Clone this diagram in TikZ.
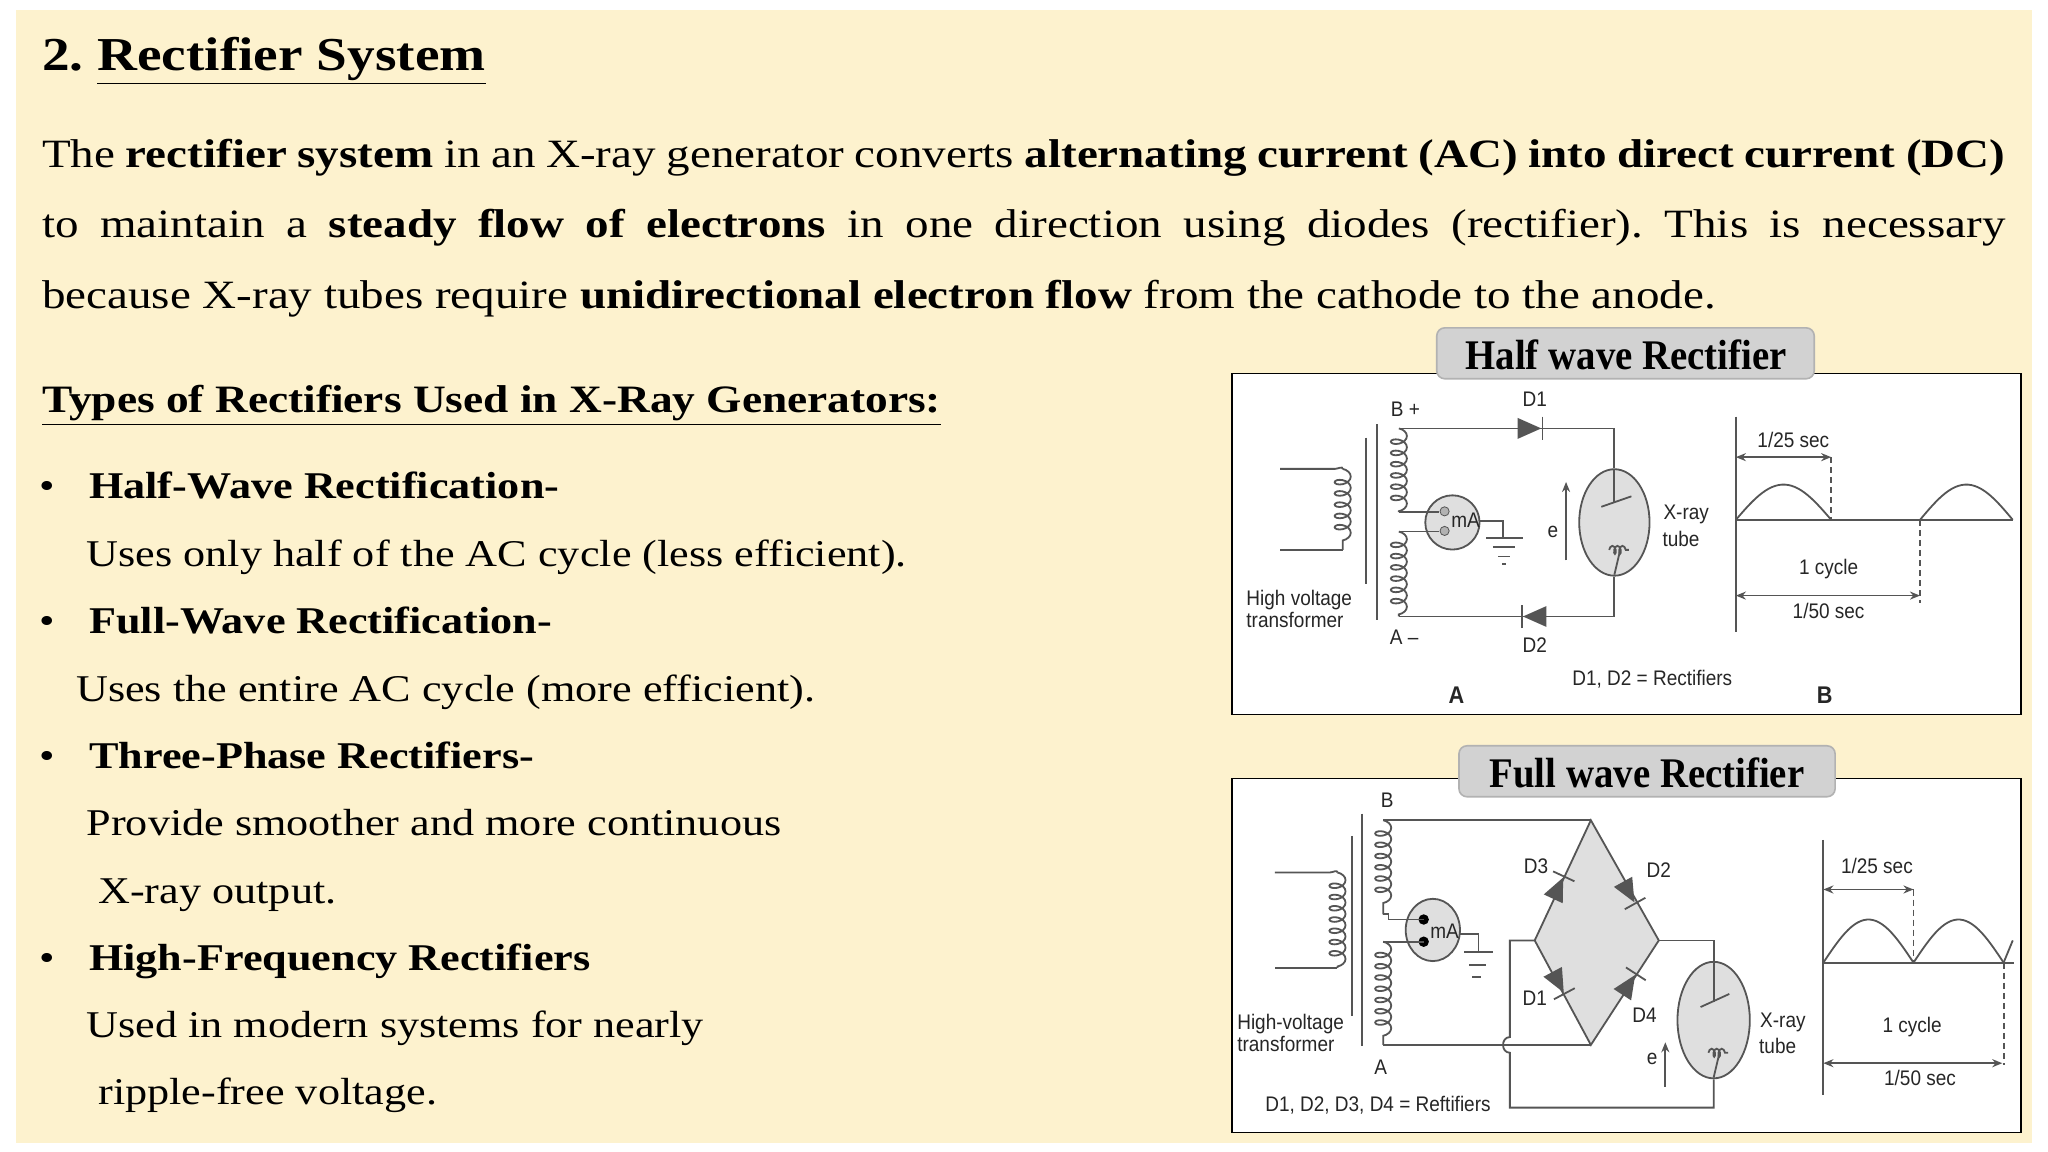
\documentclass[tikz,border=0pt]{standalone}
\usepackage{fontspec}
\setmainfont[FakeStretch=1.17]{Liberation Serif}
\newfontfamily\tabfont[FakeStretch=0.92]{Liberation Serif}
\newfontfamily\lblfont[FakeStretch=0.9]{Liberation Sans}
\usetikzlibrary{arrows.meta,decorations.pathmorphing,shapes.geometric}
\definecolor{cream}{RGB}{253,242,206}
\definecolor{wire}{RGB}{85,85,85}
\frenchspacing
\begin{document}
\begin{tikzpicture}[x=0.65pt,y=-0.65pt,
  body/.style={anchor=base west,inner sep=0pt,font=\fontsize{20}{23}\selectfont},
  item/.style={anchor=base west,inner sep=0pt,font=\fontsize{18.8}{23}\selectfont},
  lbl/.style={inner sep=0pt,font=\lblfont\fontsize{10.5}{12}\selectfont,text=black!85},
  wr/.style={draw=wire,line width=0.9pt},
  coilv/.style={wr,decorate,decoration={coil,aspect=0.6,segment length=5.6pt,amplitude=4pt}},
  dim/.style={wr,{Stealth[length=5pt,width=4pt]}-{Stealth[length=5pt,width=4pt]}},
  dsh/.style={wr,dashed,dash pattern=on 3pt off 2pt},
  tabbox/.style={draw=gray!60,fill=gray!35,rounded corners=4pt,line width=0.8pt},
  panel/.style={draw=black,fill=white,line width=0.9pt},
  diode/.pic={\fill[wire] (-9,-8)--(-9,8)--(9,0)--cycle; \draw[wr] (10,-9)--(10,9);}
]
\useasboundingbox (0,0) rectangle (1568,882);
\fill[white] (0,0) rectangle (1568,882);
\fill[cream] (12,8) rectangle (1556,875);

% ---------- texts ----------
\node[anchor=base west,inner sep=0pt,font=\fontsize{23.5}{30}\selectfont\bfseries] (title) at (32,54) {2. \underline{Rectifier System}};
\node[body] (p1) at (32,128) {\makebox[977pt][s]{The \textbf{rectifier system} in an X-ray generator converts \textbf{alternating current (AC) into direct current (DC)}}};
\node[body] (p2) at (32,182) {\makebox[977pt][s]{to maintain a \textbf{steady flow of electrons} in one direction using diodes (rectifier). This is necessary}};
\node[body] (p3) at (32,236) {because X-ray tubes require \textbf{unidirectional electron flow} from the cathode to the anode.};
\node[body,font=\fontsize{19.3}{23}\selectfont\bfseries] (types) at (32,316) {\underline{Types of Rectifiers Used in X-Ray Generators:}};
\foreach \yy in {382,485,588,743} {\node[item] at (30,\yy) {•};}
\node[item] (h1) at (68,382) {\textbf{Half-Wave Rectification-}};
\node[item] (h1d) at (66,434) {Uses only half of the AC cycle (less efficient).};
\node[item] (h2) at (68,485) {\textbf{Full-Wave Rectification-}};
\node[item] (h2d) at (58,537) {Uses the entire AC cycle (more efficient).};
\node[item] (h3) at (68,588) {\textbf{Three-Phase Rectifiers-}};
\node[item] (h3d) at (66,640) {Provide smoother and more continuous};
\node[item] (h3e) at (75,692) {X-ray output.};
\node[item] (h4) at (68,743) {\textbf{High-Frequency Rectifiers}};
\node[item] (h4d) at (66,794) {Used in modern systems for nearly};
\node[item] (h4e) at (75,846) {ripple-free voltage.};

% ================= HALF WAVE =================
\draw[panel] (943,286) rectangle (1547,547);
\draw[tabbox] (1100,251) rectangle (1389,290);
\node[inner sep=0pt,font=\tabfont\fontsize{21}{24}\selectfont\bfseries] (hwt) at (1245,272) {Half wave Rectifier};
% primary
\coordinate (hp1) at (980,359); \coordinate (hp2) at (1028,359);
\coordinate (hp3) at (1028,421); \coordinate (hp4) at (980,421);
\draw[wr] (hp1) -- (1022,359) to[out=0,in=90] (hp2);
\draw[coilv] (hp2) -- (hp3);
\draw[wr] (hp3) -- (hp4);
\draw[wr] (1046,335) -- (1046,447);
\draw[wr] (1054,325) -- (1054,475);
% secondary
\coordinate (hsT) at (1071,328); \coordinate (hsM1) at (1071,392);
\coordinate (hsM2) at (1071,407); \coordinate (hsB) at (1071,472);
\draw[coilv] (hsT) -- (hsM1);
\draw[coilv] (hsM2) -- (hsB);
% mA
\node[circle,draw=wire,fill=gray!25,minimum size=27pt,inner sep=0pt,line width=0.9pt] (hma) at (1112,400) {};
\node[lbl] at (1122,398) {mA};
\fill[gray!60,draw=wire] (1106,391.5) circle (3.5);
\fill[gray!60,draw=wire] (1106,406.5) circle (3.5);
\draw[wr] (hsM1) -- (1102,392);
\draw[wr] (hsM2) -- (1102,407);
\coordinate (hg) at (1151,412);
\draw[wr] (1132,399) -- (1151,399) -- (hg);
\draw[wr] (1138,412) -- (1166,412) (1143,419) -- (1160,419) (1147,426) -- (1156,426) (1150,432) -- (1153,432);
% tube
\node[ellipse,draw=wire,fill=gray!25,minimum width=35pt,minimum height=53pt,inner sep=0pt,line width=0.9pt] (htube) at (1236,400) {};
\draw[wr] (1236,360) -- (1236,384);
\draw[wr] (1226,388) -- (1249,380);
\draw[wr,decorate,decoration={coil,aspect=0.5,segment length=2.5pt,amplitude=2pt}] (1232,421) -- (1247,421);
\draw[wr] (1240,423) -- (1236,440);
% wires & diodes
\coordinate (hTR) at (1236,328); \coordinate (hBR) at (1236,472);
\draw[wr] (hsT) -- (hTR) -- (htube.north);
\draw[wr] (hsB) -- (hBR) -- (htube.south);
\pic at (1171,328) {diode};
\pic[rotate=180] at (1175,472) {diode};
\node[lbl] at (1175,306) {D1};
\node[lbl] at (1175,494) {D2};
\node[lbl] at (1076,313) {B +};
\node[lbl] at (1075,488) {A –};
\draw[wr,-{Stealth[length=5pt,width=4pt]}] (1199,429) -- (1199,369);
\node[lbl] at (1189,407) {e};
\node[lbl] at (1291,394) {X-ray};
\node[lbl] at (1287,413) {tube};
\node[lbl,align=left,anchor=west] at (954,466) {High voltage\\[-1pt]transformer};
% waveform
\draw[wr] (1329,319) -- (1329,484);
\draw[wr] (1329,398) -- (1541,398);
\draw[wr] plot[domain=0:180,samples=30] ({1329+\x/180*73},{398-27*sin(\x)});
\draw[wr] plot[domain=0:180,samples=30] ({1470+\x/180*71},{398-27*sin(\x)});
\draw[dsh] (1402,350) -- (1402,398);
\draw[dsh] (1470,398) -- (1470,462);
\draw[dim] (1329,350) -- (1402,350);
\draw[dim] (1329,456) -- (1470,456);
\node[lbl] at (1373,337) {1/25 sec};
\node[lbl] at (1400,436) {1 cycle};
\node[lbl] at (1400,468) {1/50 sec};
\node[lbl] at (1265,520) {D1, D2 = Rectifiers};
\node[lbl,font=\lblfont\fontsize{12}{14}\selectfont\bfseries] at (1115,532) {A};
\node[lbl,font=\lblfont\fontsize{12}{14}\selectfont\bfseries] at (1397,532) {B};

% ================= FULL WAVE =================
\draw[panel] (943,596) rectangle (1547,867);
\draw[tabbox] (1117,571) rectangle (1405,610);
\node[inner sep=0pt,font=\tabfont\fontsize{21}{24}\selectfont\bfseries] (fwt) at (1261,592) {Full wave Rectifier};
% primary
\coordinate (fp1) at (976,668); \coordinate (fp2) at (1024,668);
\coordinate (fp3) at (1024,741); \coordinate (fp4) at (976,741);
\draw[wr] (fp1) -- (1018,668) to[out=0,in=90] (fp2);
\draw[coilv] (fp2) -- (fp3);
\draw[wr] (fp3) -- (fp4);
\draw[wr] (1035,640) -- (1035,778);
\draw[wr] (1043,623) -- (1043,801);
% secondary
\coordinate (fsT) at (1059,628); \coordinate (fsM1) at (1059,700);
\coordinate (fsM2) at (1059,721); \coordinate (fsB) at (1059,800);
\draw[coilv] (fsT) -- (fsM1);
\draw[coilv] (fsM2) -- (fsB);
\node[lbl] at (1062,613) {B};
\node[lbl] at (1057,817) {A};
% mA
\node[ellipse,draw=wire,fill=gray!25,minimum width=27pt,minimum height=31pt,inner sep=0pt,line width=0.9pt] (fma) at (1097,712) {};
\node[lbl] at (1106,713) {mA};
\fill[black] (1090,704) circle (4);
\fill[black] (1090,721) circle (4);
\draw[wr] (fsM1) -- (1063,700) -- (1063,704) -- (1090,704);
\draw[wr] (fsM2) -- (1063,721) -- (1090,721);
\draw[wr] (1118,715) -- (1132,715) -- (1132,729);
\draw[wr] (1121,729) -- (1143,729) (1125,739) -- (1138,739) (1127,748) -- (1134,748);
% bridge
\coordinate (dT) at (1218,628); \coordinate (dL) at (1175,720);
\coordinate (dR) at (1270,720); \coordinate (dB) at (1218,800);
\fill[gray!25] (dT) -- (dR) -- (dB) -- (dL) -- cycle;
\draw[wr] (dT) -- (dR) -- (dB) -- (dL) -- cycle;
\pic[rotate=65] at (1193,680) {diode};
\pic[rotate=-61] at (1247,683) {diode};
\pic[rotate=-62] at (1193,752) {diode};
\pic[rotate=57] at (1247,754) {diode};
\node[lbl] at (1176,663) {D3};
\node[lbl] at (1270,666) {D2};
\node[lbl] at (1175,764) {D1};
\node[lbl] at (1259,777) {D4};
% tube
\node[ellipse,draw=wire,fill=gray!25,minimum width=36pt,minimum height=58pt,inner sep=0pt,line width=0.9pt] (ftube) at (1312,781) {};
\draw[wr] (1312,737) -- (1312,767);
\draw[wr] (1302,771) -- (1324,761);
\draw[wr,decorate,decoration={coil,aspect=0.5,segment length=2.5pt,amplitude=2pt}] (1308,806) -- (1323,806);
\draw[wr] (1316,808) -- (1312,825);
% wires
\draw[wr] (fsT) -- (dT);
\draw[wr] (fsB) -- (dB);
\draw[wr] (dR) -- (1312,720) -- (ftube.north);
\draw[wr] (dL) -- (1156,720) -- (1156,794) .. controls (1149,794) and (1149,806) .. (1156,806) -- (1156,848) -- (1312,848) -- (ftube.south);
\draw[wr,-{Stealth[length=5pt,width=4pt]}] (1275,832) -- (1275,798);
\node[lbl] at (1265,811) {e};
\node[lbl] at (1365,783) {X-ray};
\node[lbl] at (1361,801) {tube};
\node[lbl,align=left,anchor=west] at (947,791) {High-voltage\\[-1pt]transformer};
% waveform
\draw[wr] (1396,643) -- (1396,838);
\draw[wr] (1396,737) -- (1542,737);
\draw[wr] plot[domain=0:180,samples=30] ({1396+\x/180*69},{737-33*sin(\x)});
\draw[wr] plot[domain=0:180,samples=30] ({1465+\x/180*69},{737-33*sin(\x)});
\draw[wr] (1534,737) -- (1541,720);
\draw[dsh] (1465,681) -- (1465,737);
\draw[dsh] (1534,737) -- (1534,815);
\draw[dim] (1396,681) -- (1465,681);
\draw[dim] (1396,814) -- (1533,814);
\node[lbl] at (1437,663) {1/25 sec};
\node[lbl] at (1464,786) {1 cycle};
\node[lbl] at (1470,825) {1/50 sec};
\node[lbl] at (1055,846) {D1, D2, D3, D4 = Reftifiers};
\end{tikzpicture}
\end{document}
